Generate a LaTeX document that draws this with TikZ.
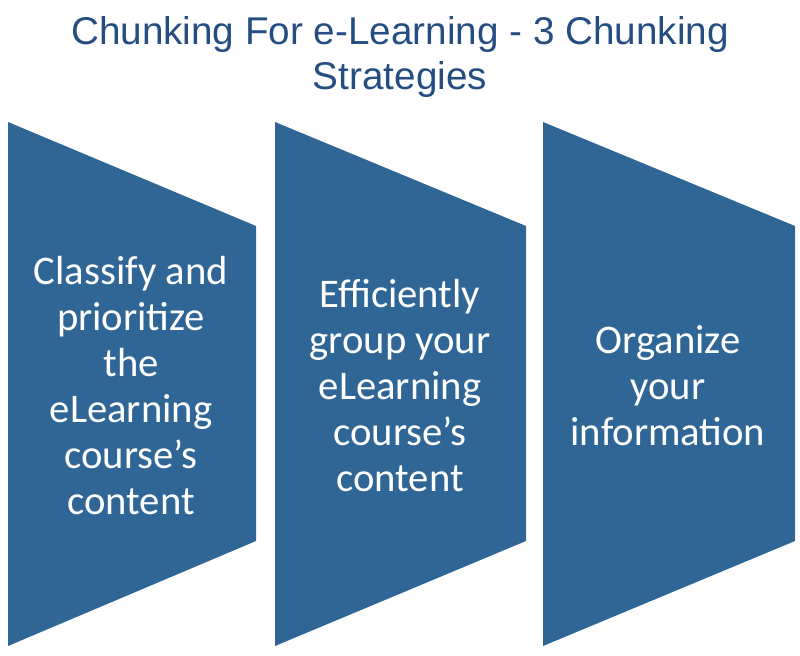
\documentclass[tikz,border=0pt]{standalone}
\usepackage{fontspec}
\setmainfont{Carlito}
\newfontfamily\titlefont{Liberation Sans}
\definecolor{chev}{RGB}{47,102,150}
\definecolor{ttl}{RGB}{36,78,130}
\begin{document}
\begin{tikzpicture}[x=0.75pt,y=-0.75pt,
  chevshape/.style={fill=chev,draw=none},
  chevtext/.style={text=white,font=\fontsize{30.5}{34.5}\selectfont,align=center}]
\useasboundingbox (0,0) rectangle (800,656);
\node[text=ttl,font=\titlefont\fontsize{29}{34}\selectfont,align=center] (title) at (400,57) {Chunking For e-Learning - 3 Chunking\\Strategies};
\foreach \i/\xl/\xr in {1/8/256,2/275/526,3/543/795}{
  \fill[chevshape] (\xl,122) -- (\xr,226) -- (\xr,541) -- (\xl,646) -- cycle;
}
\node[chevtext] (t1) at (131,386) {Classify and\\prioritize\\the\\eLearning\\course’s\\content};
\node[chevtext] (t2) at (400,386) {Efficiently\\group your\\eLearning\\course’s\\content};
\node[chevtext] (t3) at (668,386) {Organize\\your\\information};
\end{tikzpicture}
\end{document}
